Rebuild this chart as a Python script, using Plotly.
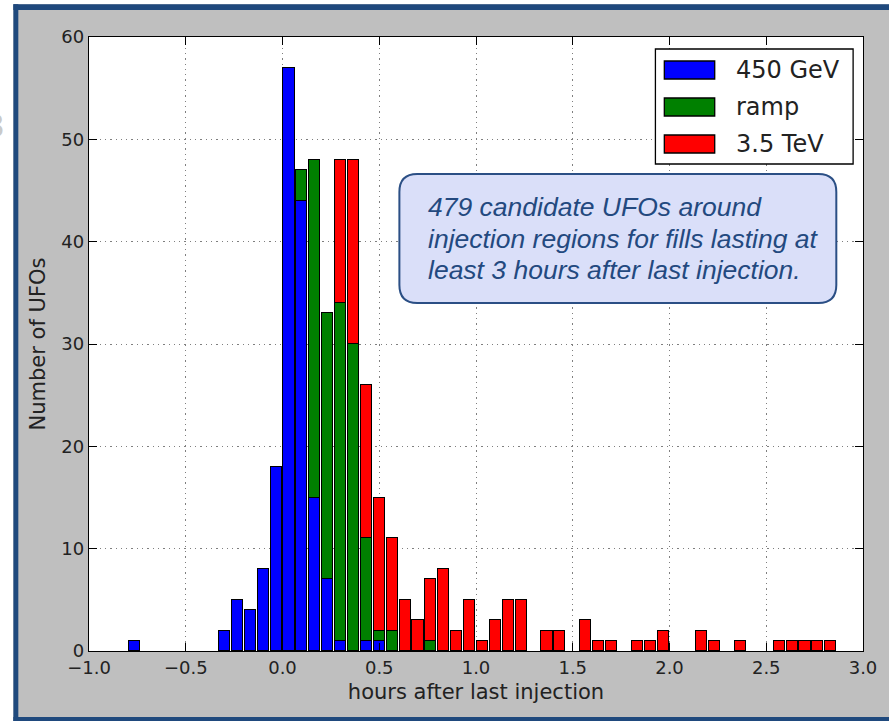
import plotly.graph_objects as go

# ---------------- data ----------------
# histogram bins of 4 minutes (1/15 hour); bin index k covers [k/15, (k+1)/15) hours
bin_minutes = 4
bin_index = list(range(-12, 43))

blue_450GeV = [1, 0, 0, 0, 0, 0, 0, 2, 5, 4, 8, 18,      # k=-12..-1
               57, 44, 15, 7, 1, 0, 1, 1,                 # k=0..7
               0, 0, 0, 0, 0, 0, 0, 0, 0, 0, 0, 0, 0, 0, 0, 0, 0, 0, 0, 0,   # k=8..27
               0, 0, 0, 0, 0, 0, 0, 0, 0, 0, 0, 0, 0, 0, 0]                 # k=28..42
green_ramp = [0, 0, 0, 0, 0, 0, 0, 0, 0, 0, 0, 0,
              0, 3, 33, 26, 33, 30, 10, 1,
              2, 0, 0, 1, 0, 0, 0, 0, 0, 0, 0, 0, 0, 0, 0, 0, 0, 0, 0, 0,
              0, 0, 0, 0, 0, 0, 0, 0, 0, 0, 0, 0, 0, 0, 0]
red_35TeV = [0, 0, 0, 0, 0, 0, 0, 0, 0, 0, 0, 0,
             0, 0, 0, 0, 14, 18, 15, 13,
             9, 5, 3, 6, 8, 2, 5, 1, 3, 5, 5, 0, 2, 2, 0, 3, 1, 1, 0, 1,
             1, 2, 0, 0, 2, 1, 0, 1, 0, 0, 1, 1, 1, 1, 1]

series_names = ["450 GeV", "ramp", "3.5 TeV"]
series_values = [blue_450GeV, green_ramp, red_35TeV]
series_colors = ["#0000ff", "#008000", "#ff0000"]

x_ticks = [-1.0, -0.5, 0.0, 0.5, 1.0, 1.5, 2.0, 2.5, 3.0]
y_ticks = [0, 10, 20, 30, 40, 50, 60]
note_lines = ["479 candidate UFOs around",
              "injection regions for fills lasting at",
              "least 3 hours after last injection."]

# ---------------- layout geometry ----------------
W, H = 889, 721
L, R, T, B = 89, 872, 37, 651          # plot area in pixels


def px(x):
    return (x - L) / (R - L)


def py(y):
    return (B - y) / (B - T)


bin_w = bin_minutes / 60.0
centers = [(k + 0.5) * bin_w for k in bin_index]

fig = go.Figure()
for name, vals, col in zip(series_names, series_values, series_colors):
    fig.add_trace(go.Bar(
        x=centers,
        y=[v if v else None for v in vals],
        width=bin_w * 0.86,
        name=name,
        marker=dict(color=col, line=dict(color="black", width=1.5)),
        showlegend=False,
    ))

font_main = "DejaVu Sans"
shapes = []
# slide frame: white strips and dark-blue border
frame_blue = "#1f497d"
shapes.append(dict(type="rect", xref="paper", yref="paper", x0=px(-5), x1=px(12.5), y0=py(-5), y1=py(730),
                   fillcolor="white", line=dict(width=0), layer="below"))
shapes.append(dict(type="rect", xref="paper", yref="paper", x0=px(-5), x1=px(900), y0=py(-5), y1=py(4.3),
                   fillcolor="white", line=dict(width=0), layer="below"))
shapes.append(dict(type="rect", xref="paper", yref="paper", x0=px(12.5), x1=px(17.5), y0=py(4.3), y1=py(730),
                   fillcolor=frame_blue, line=dict(width=0), layer="below"))
shapes.append(dict(type="rect", xref="paper", yref="paper", x0=px(12.5), x1=px(900), y0=py(4.3), y1=py(10),
                   fillcolor=frame_blue, line=dict(width=0), layer="below"))
shapes.append(dict(type="rect", xref="paper", yref="paper", x0=px(12.5), x1=px(900), y0=py(717), y1=py(730),
                   fillcolor=frame_blue, line=dict(width=0), layer="below"))

# manual legend (matplotlib style wide patches)
leg_x0, leg_y0, leg_x1, leg_y1 = 662, 49, 862, 164
shapes.append(dict(type="rect", xref="paper", yref="paper", x0=px(leg_x0), x1=px(leg_x1),
                   y0=py(leg_y0), y1=py(leg_y1), fillcolor="white", line=dict(color="black", width=1.3)))
annotations = []
for i, (name, col) in enumerate(zip(series_names, series_colors)):
    yc = 70 + i * 37
    shapes.append(dict(type="rect", xref="paper", yref="paper", x0=px(671), x1=px(722),
                       y0=py(yc - 9), y1=py(yc + 9), fillcolor=col, line=dict(color="black", width=1.3)))
    annotations.append(dict(xref="paper", yref="paper", x=px(741), y=py(yc), text=name, showarrow=False,
                            xanchor="left", yanchor="middle", font=dict(family=font_main, size=24, color="#222")))

# rounded note box
bx0, by0, bx1, by1, rr = 403, 174, 845, 303, 18


def P(x, y):
    return f"{px(x):.5f},{py(y):.5f}"


path = (f"M {P(bx0 + rr, by0)} L {P(bx1 - rr, by0)} Q {P(bx1, by0)} {P(bx1, by0 + rr)} "
        f"L {P(bx1, by1 - rr)} Q {P(bx1, by1)} {P(bx1 - rr, by1)} "
        f"L {P(bx0 + rr, by1)} Q {P(bx0, by1)} {P(bx0, by1 - rr)} "
        f"L {P(bx0, by0 + rr)} Q {P(bx0, by0)} {P(bx0 + rr, by0)} Z")
shapes.append(dict(type="path", xref="paper", yref="paper", path=path, fillcolor="#dadff9",
                   line=dict(color="#2b4f85", width=2)))
for i, line in enumerate(note_lines):
    annotations.append(dict(xref="paper", yref="paper", x=px(430), y=py(207 + i * 31.7),
                            text=line, showarrow=False, align="left",
                            xanchor="left", yanchor="middle",
                            font=dict(family="Liberation Sans, Arial", size=26.5, color="#23497f",
                                      style="italic")))

# cropped glyph at the very left edge of the slide
annotations.append(dict(xref="paper", yref="paper", x=px(-7), y=py(125), text="3", showarrow=False,
                        xanchor="center", yanchor="middle",
                        font=dict(family="Liberation Sans", size=34, color="#c9c9c9")))

axis_common = dict(showline=True, linecolor="black", linewidth=1.3, mirror="ticks",
                   ticks="inside", ticklen=8, tickwidth=1, tickcolor="black",
                   showgrid=True, gridcolor="#7f7f7f", griddash="1.3px,4px", gridwidth=1.3,
                   zeroline=False,
                   tickfont=dict(family=font_main, size=18, color="#222"))

fig.update_layout(
    width=W, height=H,
    margin=dict(l=L, r=W - R, t=T, b=H - B),
    paper_bgcolor="#bfbfbf", plot_bgcolor="white",
    barmode="stack", bargap=0,
    shapes=shapes, annotations=annotations,
    xaxis=dict(range=[-1.0, 3.0], tickvals=x_ticks, tickformat=".1f",
               title=dict(text="hours after last injection", standoff=7,
                          font=dict(family=font_main, size=21, color="#222")),
               **axis_common),
    yaxis=dict(range=[0, 60], tickvals=y_ticks,
               title=dict(text="Number of UFOs", standoff=9,
                          font=dict(family=font_main, size=21, color="#222")),
               **axis_common),
)

fig.write_html("out.html")
